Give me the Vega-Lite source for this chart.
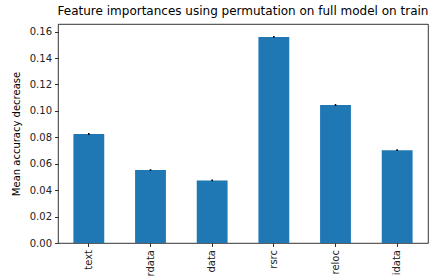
{
  "$schema": "https://vega.github.io/schema/vega-lite/v6.json",
  "width": 370,
  "height": 219,
  "autosize": {"type": "none"},
  "padding": {"left": 58, "top": 24, "right": 3, "bottom": 35},
  "background": "white",
  "title": {"text": "Feature importances using permutation on full model on train", "fontSize": 12, "font": "DejaVu Sans", "fontWeight": "normal", "color": "black", "offset": 6},
  "data": {"values": [
    {"feature": "text", "importance": 0.0825, "lo": 0.0818, "hi": 0.0832},
    {"feature": "rdata", "importance": 0.0553, "lo": 0.0547, "hi": 0.0559},
    {"feature": "data", "importance": 0.0474, "lo": 0.0467, "hi": 0.0481},
    {"feature": "rsrc", "importance": 0.1560, "lo": 0.1553, "hi": 0.1567},
    {"feature": "reloc", "importance": 0.1045, "lo": 0.1038, "hi": 0.1052},
    {"feature": "idata", "importance": 0.0703, "lo": 0.0696, "hi": 0.0710}
  ]},
  "config": {
    "view": {"stroke": "black", "strokeWidth": 0.8},
    "axis": {"labelFont": "DejaVu Sans", "titleFont": "DejaVu Sans", "labelFontSize": 10, "titleFontSize": 10, "labelColor": "#222", "titleColor": "black", "tickColor": "black", "domainColor": "black", "tickSize": 3.5, "tickWidth": 0.8, "domainWidth": 0.8, "titleFontWeight": "normal", "grid": false, "labelOverlap": false}
  },
  "encoding": {
    "x": {"field": "feature", "type": "nominal", "sort": null,
      "scale": {"paddingInner": 0.5, "paddingOuter": 0.25},
      "axis": {"title": null, "labelAngle": -90, "labelPadding": 3, "domain": false}}
  },
  "layer": [
    {
      "mark": {"type": "bar", "color": "#1f77b4"},
      "encoding": {
        "y": {"field": "importance", "type": "quantitative",
          "scale": {"domain": [0, 0.1658], "nice": false},
          "axis": {"title": "Mean accuracy decrease", "values": [0, 0.02, 0.04, 0.06, 0.08, 0.1, 0.12, 0.14, 0.16], "format": ".2f", "titlePadding": 8, "labelPadding": 3, "domain": false}}
      }
    },
    {
      "mark": {"type": "rule", "color": "black", "strokeWidth": 1.6},
      "encoding": {
        "y": {"field": "lo", "type": "quantitative", "axis": {"title": "Mean accuracy decrease", "values": [0, 0.02, 0.04, 0.06, 0.08, 0.1, 0.12, 0.14, 0.16], "format": ".2f", "titlePadding": 8, "labelPadding": 3, "domain": false}},
        "y2": {"field": "hi"}
      }
    }
  ]
}
